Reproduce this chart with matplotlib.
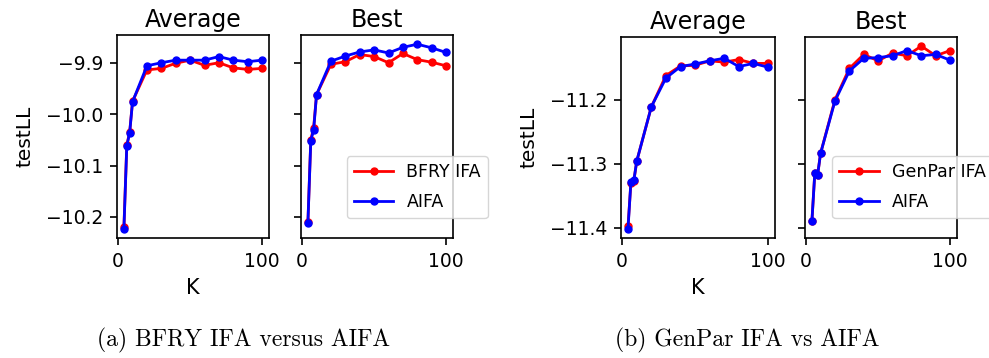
import matplotlib.pyplot as plt

K = [4, 6, 8, 10, 20, 30, 40, 50, 60, 70, 80, 90, 100]

# (a) BFRY IFA vs AIFA
a_avg_bfry = [-10.220, -10.060, -10.035, -9.975, -9.914, -9.911, -9.901, -9.895, -9.905, -9.900, -9.910, -9.913, -9.911]
a_avg_aifa = [-10.223, -10.062, -10.036, -9.976, -9.906, -9.900, -9.895, -9.895, -9.895, -9.888, -9.895, -9.898, -9.895]
a_best_bfry = [-10.210, -10.050, -10.026, -9.962, -9.903, -9.898, -9.884, -9.888, -9.900, -9.882, -9.894, -9.899, -9.906]
a_best_aifa = [-10.211, -10.052, -10.030, -9.962, -9.897, -9.887, -9.879, -9.875, -9.881, -9.870, -9.864, -9.871, -9.880]

# (b) GenPar IFA vs AIFA
b_avg_gen = [-11.398, -11.330, -11.327, -11.296, -11.211, -11.162, -11.147, -11.146, -11.139, -11.141, -11.137, -11.143, -11.143]
b_avg_aifa = [-11.402, -11.328, -11.326, -11.296, -11.211, -11.166, -11.148, -11.144, -11.139, -11.135, -11.148, -11.143, -11.149]
b_best_gen = [-11.390, -11.315, -11.317, -11.284, -11.200, -11.151, -11.129, -11.139, -11.127, -11.131, -11.116, -11.131, -11.123]
b_best_aifa = [-11.390, -11.315, -11.317, -11.284, -11.202, -11.155, -11.135, -11.134, -11.131, -11.123, -11.131, -11.129, -11.138]

fig = plt.figure(figsize=(9.89, 3.58), dpi=100)

W, H = 989.0, 358.0


def box(x0, x1, y0, y1):
    return [x0 / W, 1 - y1 / H, (x1 - x0) / W, (y1 - y0) / H]


def draw(ax, red, blue, red_name):
    ax.plot(K, red, 'o-', color='red', lw=2, ms=5, label=red_name)
    ax.plot(K, blue, 'o-', color='blue', lw=2, ms=5, label='AIFA')
    ax.set_xticks([0, 100])
    ax.tick_params(labelsize=13.5, width=1.2, length=5, pad=5)
    for s in ax.spines.values():
        s.set_linewidth(1.2)


ax1 = fig.add_axes(box(117, 269, 35, 238))
ax2 = fig.add_axes(box(301, 453, 35, 238), sharey=ax1)
ax3 = fig.add_axes(box(621, 775, 37, 238))
ax4 = fig.add_axes(box(805, 957, 37, 238), sharey=ax3)

draw(ax1, a_avg_bfry, a_avg_aifa, 'BFRY IFA')
draw(ax2, a_best_bfry, a_best_aifa, 'BFRY IFA')
draw(ax3, b_avg_gen, b_avg_aifa, 'GenPar IFA')
draw(ax4, b_best_gen, b_best_aifa, 'GenPar IFA')

for ax in (ax1, ax3):
    ax.set_title('Average', fontsize=17)
    ax.set_ylabel('testLL', fontsize=14.5, labelpad=8)
    ax.set_xlabel('K', fontsize=15, labelpad=5)
for ax in (ax2, ax4):
    ax.set_title('Best', fontsize=17)
    ax.tick_params(labelleft=False)

ax1.set_yticks([-10.2, -10.1, -10.0, -9.9])
ax3.set_yticks([-11.4, -11.3, -11.2])

leg_kw = dict(loc='lower left', borderaxespad=0, fontsize=12.5,
              handlelength=2.3, handletextpad=0.75, labelspacing=0.7)
ax2.legend(bbox_to_anchor=(0.30, 0.098), **leg_kw)
ax4.legend(bbox_to_anchor=(0.18, 0.098), **leg_kw)

fig.text(0.246, 0.05, '(a) BFRY IFA versus AIFA', fontsize=17, family='cmr10',
         ha='center', va='center')
fig.text(0.756, 0.05, '(b) GenPar IFA vs AIFA', fontsize=17, family='cmr10',
         ha='center', va='center')

fig.savefig('out.png', dpi=100)
